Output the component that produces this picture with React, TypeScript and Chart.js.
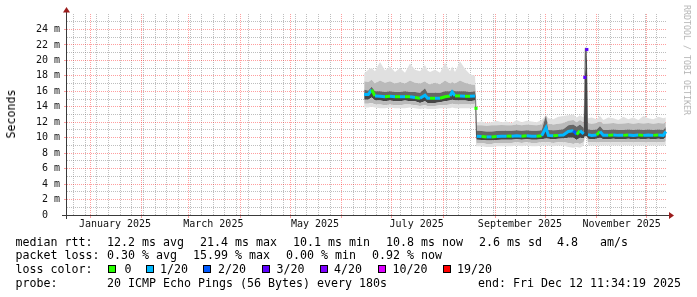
import React, { useEffect, useRef } from 'react';
import { Chart, registerables } from 'chart.js';

Chart.register(...registerables);

// Day offsets from 2025-01-01
const days = [
  164.5, 167, 169, 171, 174, 177, 180, 183, 186, 189,
  192, 195, 198, 201, 202.5, 204, 207, 210, 213, 216,
  217.3, 219, 222, 225, 228, 231, 231.6,
  232, 235, 238, 241, 244, 247, 250, 253, 256, 259,
  262, 265, 268, 271, 273.6, 275, 278, 281, 284, 287,
  290, 292, 294, 296.2, 296.9, 298.1, 298.8, 301, 304, 306,
  308, 311, 314, 317, 320, 323, 326, 329, 332, 335,
  338, 341, 344, 345.5,
];

// median rtt (ms)
const median = [
  15.6, 15.6, 16.2, 15.4, 15.35, 15.3, 15.35, 15.3, 15.3, 15.3,
  15.3, 15.2, 15.1, 15.5, 15.1, 15.1, 15.1, 15.1, 15.3, 15.4,
  15.9, 15.4, 15.4, 15.35, 15.35, 15.4, 13.8,
  10.2, 10.15, 10.1, 10.1, 10.15, 10.2, 10.2, 10.2, 10.25, 10.2,
  10.25, 10.2, 10.2, 10.25, 11.3, 10.3, 10.25, 10.3, 10.35, 10.8,
  10.9, 10.4, 10.9, 10.5, 17.8, 21.4, 10.4, 10.3, 10.35, 10.8,
  10.3, 10.3, 10.35, 10.3, 10.3, 10.35, 10.3, 10.35, 10.3, 10.35,
  10.3, 10.35, 10.3, 10.8,
];

// loss bucket (index into lossColors)
const loss = [
  1, 1, 0, 1, 1, 0, 1, 0, 1, 0,
  1, 0, 1, 1, 1, 0, 1, 0, 0, 1,
  1, 0, 1, 0, 1, 1, 0,
  1, 0, 1, 0, 1, 1, 0, 1, 1, 0,
  1, 1, 0, 1, 1, 1, 0, 1, 1, 1,
  2, 0, 1, 1, 3, 3, 1, 1, 0, 1,
  1, 0, 1, 1, 0, 1, 1, 0, 1, 1,
  0, 1, 1, 1,
];

// smoke: ping distribution (ms)
const smokeP0 = [
  13.9, 13.9, 14.0, 13.9, 13.8, 13.8, 13.9, 13.8, 13.8, 13.8,
  13.9, 13.8, 13.7, 13.8, 13.7, 13.7, 13.7, 13.8, 13.8, 13.8,
  13.9, 13.8, 13.8, 13.8, 13.8, 13.9, 10.0,
  8.9, 8.9, 8.8, 8.8, 8.9, 8.9, 8.9, 8.9, 9.0, 8.9,
  9.0, 8.9, 8.9, 9.0, 9.0, 9.0, 8.9, 9.0, 9.0, 8.8,
  8.7, 8.8, 8.7, 9.0, 10.0, 10.0, 9.0, 9.0, 9.0, 9.0,
  9.0, 9.0, 9.0, 9.0, 9.0, 9.0, 9.0, 9.0, 9.0, 9.0,
  9.0, 9.0, 9.0, 9.1,
];
const smokeP15 = [
  14.4, 14.4, 14.5, 14.3, 14.3, 14.2, 14.3, 14.2, 14.2, 14.3,
  14.3, 14.2, 14.1, 14.2, 14.1, 14.1, 14.1, 14.2, 14.2, 14.3,
  14.4, 14.3, 14.3, 14.3, 14.3, 14.4, 10.1,
  9.3, 9.3, 9.2, 9.2, 9.3, 9.3, 9.3, 9.3, 9.4, 9.3,
  9.4, 9.3, 9.3, 9.4, 9.4, 9.4, 9.3, 9.4, 9.4, 9.3,
  9.2, 9.3, 9.2, 9.4, 10.1, 10.1, 9.4, 9.4, 9.4, 9.4,
  9.4, 9.4, 9.4, 9.4, 9.4, 9.4, 9.4, 9.4, 9.4, 9.4,
  9.4, 9.4, 9.4, 9.5,
];
const smokeP35 = [
  14.9, 14.9, 15.2, 14.8, 14.8, 14.7, 14.8, 14.7, 14.7, 14.8,
  14.7, 14.7, 14.5, 14.7, 14.5, 14.5, 14.5, 14.6, 14.7, 14.8,
  14.9, 14.8, 14.8, 14.8, 14.7, 14.8, 10.2,
  9.75, 9.7, 9.65, 9.65, 9.7, 9.75, 9.75, 9.75, 9.8, 9.75,
  9.8, 9.75, 9.75, 9.8, 9.9, 9.85, 9.8, 9.85, 9.9, 10.0,
  10.0, 9.7, 10.0, 9.9, 10.2, 10.2, 9.85, 9.8, 9.85, 10.0,
  9.8, 9.8, 9.85, 9.8, 9.8, 9.85, 9.8, 9.85, 9.8, 9.85,
  9.8, 9.85, 9.8, 10.1,
];
const smokeP65 = [
  16.2, 16.1, 16.6, 16.0, 16.0, 15.9, 16.0, 15.9, 15.9, 16.0,
  15.9, 15.9, 15.8, 16.4, 15.8, 15.8, 15.8, 15.8, 16.0, 16.0,
  16.2, 16.0, 16.0, 16.0, 15.9, 16.0, 15.3,
  10.9, 10.85, 10.8, 10.8, 10.85, 10.9, 10.9, 10.9, 10.95, 10.9,
  10.95, 10.9, 10.9, 10.95, 12.9, 11.0, 10.95, 11.0, 11.1, 11.6,
  11.7, 11.4, 11.7, 11.3, 21.6, 21.6, 11.1, 11.0, 11.05, 11.5,
  11.0, 11.0, 11.05, 11.0, 11.0, 11.05, 11.0, 11.05, 11.0, 11.05,
  11.0, 11.05, 11.0, 11.4,
];
const smokeP85 = [
  17.3, 17.2, 17.5, 17.0, 17.4, 17.1, 17.3, 17.0, 17.2, 17.0,
  17.4, 17.1, 17.0, 17.3, 17.0, 16.9, 17.1, 16.9, 17.4, 17.0,
  17.2, 17.0, 17.4, 17.1, 16.9, 16.8, 15.4,
  11.6, 11.6, 11.55, 11.6, 11.6, 11.65, 11.6, 11.6, 11.7, 11.6,
  11.7, 11.65, 11.6, 11.7, 12.9, 11.8, 11.7, 11.8, 11.9, 12.2,
  12.3, 12.0, 12.3, 12.0, 21.65, 21.65, 11.9, 11.8, 11.9, 12.1,
  11.8, 11.85, 11.9, 11.8, 11.85, 11.9, 11.8, 11.9, 11.85, 11.9,
  11.8, 11.9, 11.85, 12.0,
];
const smokeP100 = [
  18.3, 18.8, 19.0, 18.6, 19.8, 18.7, 19.2, 18.5, 19.0, 18.4,
  19.6, 18.8, 18.6, 19.4, 18.7, 18.5, 18.8, 18.4, 19.7, 18.6,
  19.2, 18.5, 19.9, 18.9, 18.2, 18.0, 15.5,
  12.0, 12.1, 11.9, 12.0, 12.2, 12.0, 12.1, 11.9, 12.3, 12.0,
  12.2, 12.1, 12.0, 12.3, 12.9, 12.5, 12.4, 12.7, 12.8, 12.9,
  13.0, 12.6, 12.9, 12.6, 21.7, 21.7, 12.5, 12.6, 12.4, 12.8,
  12.3, 12.6, 12.5, 12.3, 12.7, 12.4, 12.6, 12.3, 12.8, 12.5,
  12.4, 12.7, 12.5, 12.6,
];

const lossColors = ['#26ff00', '#00b8ff', '#0059ff', '#5e00ff', '#7e00ff', '#dd00ff', '#ff0000'];
const lossLabels = ['0', '1/20', '2/20', '3/20', '4/20', '10/20', '19/20'];

const monthStarts = [0, 31, 59, 90, 120, 151, 181, 212, 243, 273, 304, 334];
const monthLabelDays = [15, 74, 135, 196, 258, 319];
const monthLabels = ['January 2025', 'March 2025', 'May 2025', 'July 2025', 'September 2025', 'November 2025'];
const firstSunday = -10;

const X_MIN = -13.8;
const X_MAX = 346.2;
const Y_MAX = 26;

const MINOR = 'rgba(110,110,110,0.45)';
const MAJOR = 'rgba(255,0,0,0.38)';
const OUTER = '#e0e0e0';
const MID = '#bababa';
const INNER_LO = '#464646';
const INNER_HI = '#666666';

type XT = { value: number; kind: string; label: string };
const xTicks: XT[] = (() => {
  const arr: XT[] = [];
  for (let d = firstSunday; d <= X_MAX; d += 7) {
    if (!monthStarts.includes(d)) arr.push({ value: d, kind: 'week', label: '' });
  }
  monthStarts.forEach((d) => arr.push({ value: d, kind: 'month', label: '' }));
  monthLabelDays.forEach((d, i) => arr.push({ value: d, kind: 'label', label: monthLabels[i] }));
  arr.sort((a, b) => a.value - b.value);
  return arr;
})();

const JUMP = 1.2;
const isolated = (i: number) => {
  const prevBreak = i === 0 || Math.abs(median[i] - median[i - 1]) > JUMP;
  const nextBreak = i === median.length - 1 || Math.abs(median[i + 1] - median[i]) > JUMP;
  return prevBreak && nextBreak;
};

const pts = (arr: number[]) => days.map((d, i) => ({ x: d, y: arr[i] }));

const smokeBase = {
  borderWidth: 0,
  borderColor: 'transparent',
  pointRadius: 0,
  tension: 0,
};

const axesPlugin = {
  id: 'rrdAxes',
  afterDatasetsDraw(chart: any) {
    const { ctx, chartArea } = chart;
    const { left, right, top, bottom } = chartArea;
    ctx.save();
    ctx.strokeStyle = '#3a3a3a';
    ctx.lineWidth = 1;
    ctx.beginPath();
    ctx.moveTo(left - 0.5, bottom + 4);
    ctx.lineTo(left - 0.5, top - 2);
    ctx.moveTo(left - 5, bottom + 0.5);
    ctx.lineTo(right + 3, bottom + 0.5);
    ctx.stroke();
    ctx.fillStyle = '#9b1c1c';
    ctx.beginPath();
    ctx.moveTo(left - 0.5, top - 7);
    ctx.lineTo(left - 4, top - 1.5);
    ctx.lineTo(left + 3, top - 1.5);
    ctx.closePath();
    ctx.fill();
    ctx.beginPath();
    ctx.moveTo(right + 7, bottom + 0.5);
    ctx.lineTo(right + 2, bottom - 3);
    ctx.lineTo(right + 2, bottom + 4);
    ctx.closePath();
    ctx.fill();
    ctx.restore();
  },
};

const mono = "'DejaVu Sans Mono', monospace";

export default function App() {
  const ref = useRef<HTMLCanvasElement>(null);

  useEffect(() => {
    const chart = new Chart(ref.current as HTMLCanvasElement, {
      type: 'line',
      data: {
        datasets: [
          { ...smokeBase, data: pts(smokeP0), fill: false },
          { ...smokeBase, data: pts(smokeP15), fill: '-1', backgroundColor: OUTER },
          { ...smokeBase, data: pts(smokeP35), fill: '-1', backgroundColor: MID },
          { ...smokeBase, data: pts(median), fill: '-1', backgroundColor: INNER_LO },
          { ...smokeBase, data: pts(smokeP65), fill: '-1', backgroundColor: INNER_HI },
          { ...smokeBase, data: pts(smokeP85), fill: '-1', backgroundColor: MID },
          { ...smokeBase, data: pts(smokeP100), fill: '-1', backgroundColor: OUTER },
          {
            data: pts(median),
            fill: false,
            order: -1,
            tension: 0,
            borderWidth: 3,
            borderColor: lossColors[1],
            borderCapStyle: 'butt',
            segment: {
              borderColor: (c: any) => {
                const i = c.p0DataIndex;
                const j = c.p1DataIndex;
                if (Math.abs(median[j] - median[i]) > JUMP) return 'transparent';
                return lossColors[loss[i]];
              },
            },
            pointStyle: 'rect',
            pointRadius: (c: any) => (isolated(c.dataIndex) ? 2.2 : 0),
            pointBackgroundColor: (c: any) => lossColors[loss[c.dataIndex]],
            pointBorderWidth: 0,
          } as any,
        ],
      },
      options: {
        animation: false,
        responsive: false,
        devicePixelRatio: 1,
        events: [],
        layout: { padding: { left: 0, right: 30, top: 14, bottom: 0 } },
        plugins: { legend: { display: false }, tooltip: { enabled: false } },
        scales: {
          x: {
            type: 'linear',
            min: X_MIN,
            max: X_MAX,
            afterBuildTicks: (scale: any) => {
              scale.ticks = xTicks.map((t) => ({ value: t.value }));
            },
            afterFit: (scale: any) => {
              scale.height = 82;
            },
            grid: {
              color: (c: any) => {
                const t = xTicks[c.index];
                if (!t) return 'transparent';
                return t.kind === 'month' ? MAJOR : t.kind === 'week' ? MINOR : 'transparent';
              },
              tickColor: (c: any) => {
                const t = xTicks[c.index];
                return t && t.kind === 'month' ? MAJOR : 'transparent';
              },
              tickLength: 3,
              lineWidth: 1,
            },
            border: { display: false, dash: [1, 1] },
            ticks: {
              autoSkip: false,
              maxRotation: 0,
              minRotation: 0,
              padding: 0,
              color: '#111',
              font: { family: mono, size: 10 },
              callback: (_v: any, i: number) => (xTicks[i] ? xTicks[i].label : ''),
            },
          },
          y: {
            type: 'linear',
            min: 0,
            max: Y_MAX,
            afterFit: (scale: any) => {
              scale.width = 67;
            },
            grid: {
              color: (c: any) => {
                const v = c.tick.value;
                if (v === 0 || v === Y_MAX) return 'transparent';
                return v % 2 === 0 ? MAJOR : MINOR;
              },
              tickColor: (c: any) => {
                const v = c.tick.value;
                return v % 2 === 0 && v < Y_MAX ? MAJOR : 'transparent';
              },
              tickLength: 3,
            },
            border: { display: false, dash: [1, 1] },
            ticks: {
              stepSize: 1,
              autoSkip: false,
              padding: 4,
              color: '#111',
              font: { family: mono, size: 10 },
              callback: (v: any) => {
                const n = Number(v);
                if (n % 2 !== 0 || n >= Y_MAX) return '';
                return n === 0 ? '0  ' : `${n} m`;
              },
            },
          },
        },
      },
      plugins: [axesPlugin],
    } as any);
    return () => chart.destroy();
  }, []);

  const txt = (left: number, top: number, s: string, extra: any = {}) => (
    <div
      style={{
        position: 'absolute',
        left,
        top,
        whiteSpace: 'pre',
        fontFamily: mono,
        fontSize: '11.63px',
        lineHeight: '14px',
        color: '#000',
        ...extra,
      }}
    >
      {s}
    </div>
  );

  const boxX = [108, 146, 203, 262, 320, 378, 443];
  const boxLabelX = [124.5, 160, 218, 276.5, 334, 392.5, 457];

  return (
    <div
      style={{
        position: 'fixed',
        left: 0,
        top: 0,
        width: 697,
        height: 297,
        background: '#fff',
        overflow: 'hidden',
      }}
    >
      <canvas
        ref={ref}
        width={697}
        height={297}
        style={{ position: 'absolute', left: 0, top: 0, width: 697, height: 297 }}
      />
      <div
        style={{
          position: 'absolute',
          left: 10.5,
          top: 113.5,
          transform: 'translate(-50%, -50%) rotate(-90deg)',
          whiteSpace: 'nowrap',
          fontFamily: mono,
          fontSize: '11.63px',
          lineHeight: '14px',
          color: '#000',
        }}
      >
        Seconds
      </div>
      <div
        style={{
          position: 'absolute',
          left: 687,
          top: 60,
          transform: 'translate(-50%, -50%) rotate(90deg)',
          whiteSpace: 'nowrap',
          fontFamily: mono,
          fontSize: '8.3px',
          lineHeight: '10px',
          color: '#b4b4b4',
        }}
      >
        RRDTOOL / TOBI OETIKER
      </div>

      {txt(15.5, 234.7, 'median rtt:')}
      {txt(107, 234.7, '12.2 ms avg')}
      {txt(200, 234.7, '21.4 ms max')}
      {txt(293, 234.7, '10.1 ms min')}
      {txt(386, 234.7, '10.8 ms now')}
      {txt(479, 234.7, '2.6 ms sd')}
      {txt(557, 234.7, '4.8')}
      {txt(600, 234.7, 'am/s')}

      {txt(15.5, 248, 'packet loss:')}
      {txt(107, 248, '0.30 % avg')}
      {txt(193, 248, '15.99 % max')}
      {txt(286, 248, '0.00 % min')}
      {txt(372, 248, '0.92 % now')}

      {txt(15.5, 262, 'loss color:')}
      {lossColors.map((c, i) => (
        <div
          key={'b' + i}
          style={{
            position: 'absolute',
            left: boxX[i],
            top: 265,
            width: 6,
            height: 6,
            background: c,
            border: '1px solid #000',
          }}
        />
      ))}
      {lossLabels.map((l, i) => (
        <React.Fragment key={'l' + i}>{txt(boxLabelX[i], 262, l)}</React.Fragment>
      ))}

      {txt(15.5, 275.7, 'probe:')}
      {txt(107, 275.7, '20 ICMP Echo Pings (56 Bytes) every 180s')}
      {txt(478, 275.7, 'end: Fri Dec 12 11:34:19 2025')}
    </div>
  );
}
